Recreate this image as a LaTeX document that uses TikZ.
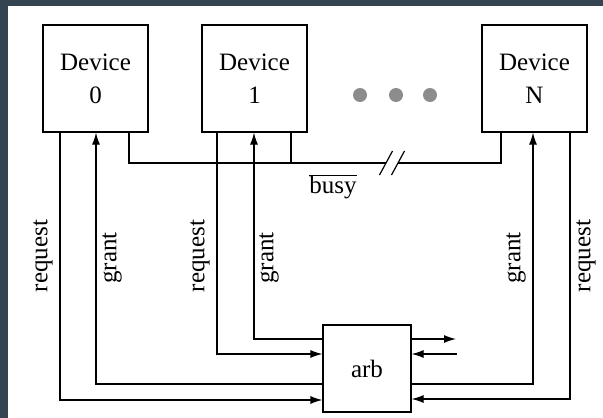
\documentclass[tikz,border=0pt]{standalone}
\usepackage{fontspec}
\setmainfont{Liberation Serif}
\usetikzlibrary{arrows.meta}
\definecolor{frame}{RGB}{52,68,80}
\definecolor{dotgray}{RGB}{140,140,140}
\begin{document}
\begin{tikzpicture}[x=1pt,y=-1pt,
  line width=1.2pt,
  box/.style={draw, rectangle, inner sep=0pt, align=center,
    font=\fontsize{25}{33}\selectfont},
  lbl/.style={rotate=90, font=\fontsize{25}{28}\selectfont, inner sep=0pt},
  arr/.style={-{Latex[length=12pt,width=8pt]}},
  dot/.style={circle, fill=dotgray, minimum size=14pt, inner sep=0pt}]
\useasboundingbox (0,0) rectangle (603,418);
\fill[frame] (0,0) rectangle (603,418);
\fill[white] (8,6) rectangle (603,418);

\node[box, minimum width=105pt, minimum height=107pt] (dev0) at (95.5,78.5) {Device\\0};
\node[box, minimum width=105pt, minimum height=107pt] (dev1) at (254.5,78.5) {Device\\1};
\node[box, minimum width=105pt, minimum height=107pt] (devN) at (534.5,78.5) {Device\\N};
\node[box, minimum width=88pt, minimum height=87pt] (arb) at (367,368.5) {arb};

\node[dot] (d1) at (360,95) {};
\node[dot] (d2) at (396,95) {};
\node[dot] (d3) at (430,95) {};

% request / grant lines
\draw[arr] (dev0.south -| 60,0) |- (arb.west |- 0,400);
\draw[arr] (arb.west |- 0,384) -| (dev0.south -| 96,0);
\draw[arr] (dev1.south -| 217,0) |- (arb.west |- 0,354);
\draw[arr] (arb.west |- 0,339) -| (dev1.south -| 254,0);
\draw[arr] (arb.east |- 0,384) -| (devN.south -| 533,0);
\draw[arr] (devN.south -| 570,0) |- (arb.east |- 0,399);

% free arrows at arb
\coordinate (out) at (456,339);
\coordinate (in) at (457,354);
\draw[arr] (arb.east |- out) -- (out);
\draw[arr] (in) -- (arb.east |- in);

% busy line
\coordinate (s1) at (386,163);
\coordinate (s2) at (398,163);
\draw (dev0.south -| 129,0) |- (s1);
\draw (dev1.south -| 291,0) -- (291,163);
\draw (s2) -| (devN.south -| 501,0);
\draw ([shift={(-6.5,12)}]s1) -- ([shift={(6.5,-12)}]s1);
\draw ([shift={(-6.5,12)}]s2) -- ([shift={(6.5,-12)}]s2);
\node[font=\fontsize{25}{28}\selectfont, inner sep=0pt] (busy) at (333,187) {$\overline{\hbox{busy}}$};

% labels
\node[lbl] (lr0) at (43,256) {request};
\node[lbl] (lg0) at (112,258) {grant};
\node[lbl] (lr1) at (200,256) {request};
\node[lbl] (lg1) at (269,258) {grant};
\node[lbl] (lgN) at (516,258) {grant};
\node[lbl] (lrN) at (586,256) {request};
\end{tikzpicture}
\end{document}
